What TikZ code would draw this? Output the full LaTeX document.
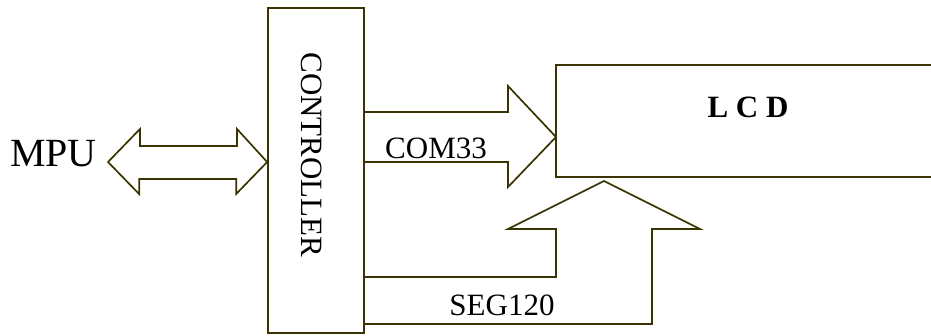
\documentclass[tikz,border=0pt]{standalone}
\usepackage{fontspec}
\setmainfont{Liberation Serif}
\usetikzlibrary{positioning, calc}
\definecolor{oliveline}{RGB}{58,52,2}

\begin{document}
\begin{tikzpicture}[x=1pt, y=-1pt,
  block/.style={draw=oliveline, line width=1.7pt, inner sep=0pt},
  bus/.style={draw=oliveline, line width=1.7pt, line join=miter},
  caption/.style={font=\fontsize{31}{36}\selectfont, inner sep=0pt}]
  \useasboundingbox (0,0) rectangle (931,335);

  \node [block, minimum width=96pt, minimum height=325pt] (ctrl) at (316,170.5) {};
  \node [caption, rotate=-90] (ctrltitle) at (312,155) {CONTROLLER};

  % LCD panel, open at the right edge
  \coordinate (lcdnw) at (556,65);
  \coordinate (lcdsw) at (556,177);
  \draw [bus] (932,65) -- (lcdnw) -- (lcdsw) -- (932,177);
  \node [caption] (lcd) at (748,107) {\textbf{L C D}};

  % MPU <-> CONTROLLER
  \coordinate (mpuend) at (108,162);
  \coordinate (ctrlend) at (ctrl.west |- 0,162);
  \draw [bus] (mpuend) -- ++(32,-33) -- ++(0,17) -- ++(97,0) -- ++(0,-17)
    -- (ctrlend) -- ++(-31,32) -- ++(0,-15) -- ++(-97,0) -- ++(0,15) -- cycle;
  \node [caption, font=\fontsize{40}{46}\selectfont, left=11pt of mpuend, yshift=8.5pt] (mpu) {MPU};

  % COMMON bus
  \draw [bus] (ctrl.east |- 0,112) -- (508,112) -- (508,86)
    -- (lcdnw |- 0,137) -- (508,187) -- (508,162) -- (ctrl.east |- 0,162);
  \node [caption] (com) at (436,148) {COM33};

  % SEGMENT bus
  \draw [bus] (ctrl.east |- 0,277) -| (lcdsw |- 0,229) -- (508,229)
    -- ($(lcdsw)+(48,4)$) -- (700,229) -- (652,229)
    |- (ctrl.east |- 0,324);
  \node [caption] (seg) at (502,305) {SEG120};

\end{tikzpicture}
\end{document}
